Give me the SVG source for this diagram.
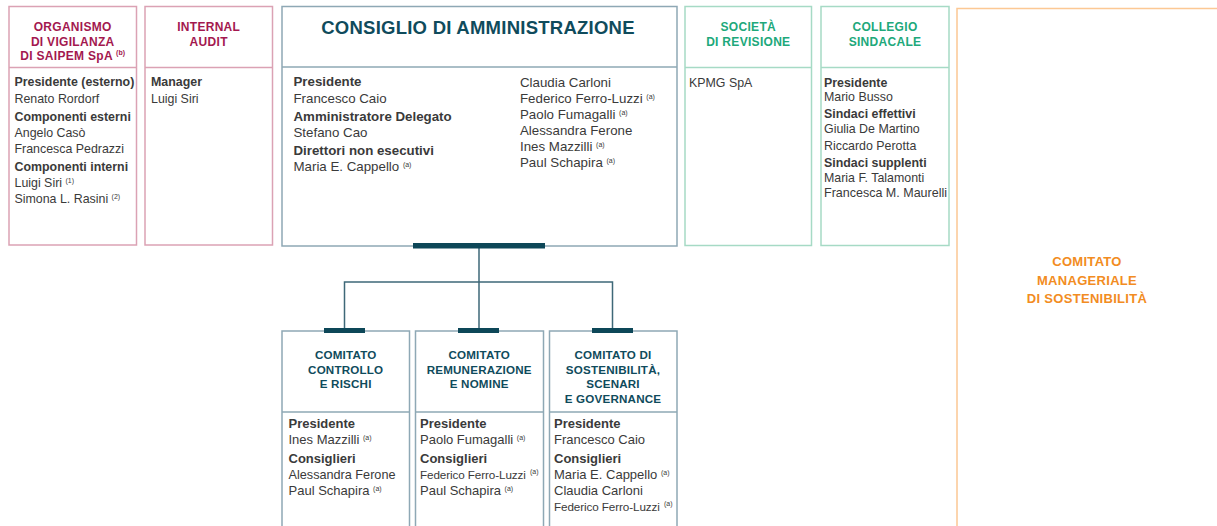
<svg xmlns="http://www.w3.org/2000/svg" width="1217" height="526" viewBox="0 0 1217 526">
<style>
.bg{fill:#ffffff}
.bx{fill:#ffffff;stroke-width:1.5}
.pk{stroke:#dba2b4}
.tl{stroke:#8ea8b5}
.gr{stroke:#a6dac5}
.or{stroke:#fcc894}
.h{font-family:"Liberation Sans",Arial,sans-serif;font-weight:bold;font-size:12px;letter-spacing:0.3px;text-anchor:middle}
.hb{font-family:"Liberation Sans",Arial,sans-serif;font-weight:bold;font-size:11.6px;letter-spacing:0.2px;text-anchor:middle;fill:#0f4b5c}
.hp{fill:#a3184f}
.hg{fill:#20a87a}
.ho{fill:#f28c22;font-size:13px}
.t{font-family:"Liberation Sans",Arial,sans-serif;font-size:12.4px;fill:#3a3a3a}
.tc{font-family:"Liberation Sans",Arial,sans-serif;font-size:13.3px;fill:#3a3a3a}
.tb{font-family:"Liberation Sans",Arial,sans-serif;font-size:13px;fill:#3a3a3a}
.tn{font-size:11.7px;letter-spacing:-0.1px}
.b{font-weight:bold}
.s{font-size:7px}
.ss{font-family:"Liberation Sans",Arial,sans-serif;font-size:7px;fill:#3a3a3a}
.bar{fill:#0d4758}
.ln{fill:none;stroke:#3e6878;stroke-width:1.5}
</style>
<rect class="bg" x="0" y="0" width="1217" height="526"/>
<g id="connectors">
<path class="ln" d="M479 248 V328 M344.5 328 V282 H612.5 V328"/>
</g>
<g id="organismo">
<rect class="bx pk" x="9" y="6.5" width="127.5" height="238.5"/>
<line class="pk" x1="9" y1="67.5" x2="136.5" y2="67.5" stroke-width="1.5"/>
<text class="h hp" x="72.7" y="30.7">ORGANISMO</text>
<text class="h hp" x="72.7" y="45.5">DI VIGILANZA</text>
<text class="h hp" x="72.7" y="60">DI SAIPEM SpA <tspan class="s" dy="-5" letter-spacing="0">(b)</tspan></text>
<text class="t" x="14.5"><tspan class="b" x="14.5" y="86">Presidente (esterno)</tspan><tspan x="14.5" y="102.5">Renato Rordorf</tspan><tspan class="b" x="14.5" y="120.5">Componenti esterni</tspan><tspan x="14.5" y="136.5">Angelo Casò</tspan><tspan x="14.5" y="152.7">Francesca Pedrazzi</tspan><tspan class="b" x="14.5" y="171">Componenti interni</tspan><tspan x="14.5" y="187">Luigi Siri <tspan class="s" dy="-4">(1)</tspan></tspan><tspan x="14.5" y="203.3">Simona L. Rasini <tspan class="s" dy="-4">(2)</tspan></tspan></text>
</g>
<g id="internal-audit">
<rect class="bx pk" x="145" y="6.5" width="127.5" height="238.5"/>
<line class="pk" x1="145" y1="67.5" x2="272.5" y2="67.5" stroke-width="1.5"/>
<text class="h hp" x="208.7" y="30.7">INTERNAL</text>
<text class="h hp" x="208.7" y="45.7">AUDIT</text>
<text class="t"><tspan class="b" x="151" y="86">Manager</tspan><tspan x="151" y="102.5">Luigi Siri</tspan></text>
</g>
<g id="cda">
<rect class="bx tl" x="282" y="6.5" width="395" height="239.5"/>
<line class="tl" x1="282" y1="67" x2="677" y2="67" stroke-width="1.5"/>
<text class="h" x="478" y="34.3" style="font-size:18.5px;letter-spacing:0.25px;fill:#0f4b5c">CONSIGLIO DI AMMINISTRAZIONE</text>
<text class="tc"><tspan class="b" x="293.5" y="86">Presidente</tspan><tspan x="293.5" y="102.7">Francesco Caio</tspan><tspan class="b" x="293.5" y="120.7">Amministratore Delegato</tspan><tspan x="293.5" y="136.7">Stefano Cao</tspan><tspan class="b" x="293.5" y="155">Direttori non esecutivi</tspan><tspan x="293.5" y="171">Maria E. Cappello <tspan class="s" dy="-4">(a)</tspan></tspan></text>
<text class="tc"><tspan x="520" y="86.7">Claudia Carloni</tspan><tspan x="520" y="102.7">Federico Ferro-Luzzi <tspan class="s" dy="-4">(a)</tspan></tspan><tspan x="520" y="118.7">Paolo Fumagalli <tspan class="s" dy="-4">(a)</tspan></tspan><tspan x="520" y="135">Alessandra Ferone</tspan><tspan x="520" y="150.7">Ines Mazzilli <tspan class="s" dy="-4">(a)</tspan></tspan><tspan x="520" y="166.7">Paul Schapira <tspan class="s" dy="-4">(a)</tspan></tspan></text>
<rect class="bar" x="413" y="243" width="132" height="5.5"/>
</g>
<g id="societa-revisione">
<rect class="bx gr" x="685" y="6.5" width="126.5" height="239"/>
<line class="gr" x1="685" y1="67.5" x2="811.5" y2="67.5" stroke-width="1.5"/>
<text class="h hg" x="748.3" y="30.7">SOCIETÀ</text>
<text class="h hg" x="748.3" y="45.7">DI REVISIONE</text>
<text class="t" x="689" y="86.5">KPMG SpA</text>
</g>
<g id="collegio-sindacale">
<rect class="bx gr" x="821" y="6.5" width="128" height="239"/>
<line class="gr" x1="821" y1="67.5" x2="949" y2="67.5" stroke-width="1.5"/>
<text class="h hg" x="885" y="30.7">COLLEGIO</text>
<text class="h hg" x="885" y="45.7">SINDACALE</text>
<text class="t"><tspan class="b" x="824" y="87">Presidente</tspan><tspan x="824" y="101">Mario Busso</tspan><tspan class="b" x="824" y="118">Sindaci effettivi</tspan><tspan x="824" y="132.5">Giulia De Martino</tspan><tspan x="824" y="150">Riccardo Perotta</tspan><tspan class="b" x="824" y="166.5">Sindaci supplenti</tspan><tspan x="824" y="181.5">Maria F. Talamonti</tspan><tspan x="824" y="196.5" textLength="123" lengthAdjust="spacingAndGlyphs">Francesca M. Maurelli</tspan></text>
</g>
<g id="comitato-manageriale">
<rect class="bx or" x="957" y="8.5" width="300" height="600"/>
<text class="h ho" x="1087" y="266">COMITATO</text>
<text class="h ho" x="1087" y="284.5">MANAGERIALE</text>
<text class="h ho" x="1087" y="303">DI SOSTENIBILITÀ</text>
</g>
<g id="comitato-controllo-rischi">
<rect class="bx tl" x="282" y="331" width="127.5" height="220"/>
<line class="tl" x1="282" y1="412" x2="409.5" y2="412" stroke-width="1.5"/>
<rect class="bar" x="324" y="328" width="41" height="5"/>
<text class="hb" x="345.7" y="359">COMITATO</text>
<text class="hb" x="345.7" y="373.5">CONTROLLO</text>
<text class="hb" x="345.7" y="388">E RISCHI</text>
<text class="tb"><tspan class="b" x="288.5" y="428">Presidente</tspan><tspan x="288.5" y="444">Ines Mazzilli <tspan class="s" dy="-4">(a)</tspan></tspan><tspan class="b" x="288.5" y="462.5">Consiglieri</tspan><tspan x="288.5" y="479" textLength="107" lengthAdjust="spacingAndGlyphs">Alessandra Ferone</tspan><tspan x="288.5" y="495">Paul Schapira <tspan class="s" dy="-4">(a)</tspan></tspan></text>
</g>
<g id="comitato-remunerazione-nomine">
<rect class="bx tl" x="415.5" y="331" width="128" height="220"/>
<line class="tl" x1="415.5" y1="412" x2="543.5" y2="412" stroke-width="1.5"/>
<rect class="bar" x="458" y="328" width="41" height="5"/>
<text class="hb" x="479.2" y="359">COMITATO</text>
<text class="hb" x="479.2" y="373.5">REMUNERAZIONE</text>
<text class="hb" x="479.2" y="388">E NOMINE</text>
<text class="tb"><tspan class="b" x="420" y="428">Presidente</tspan><tspan x="420" y="444">Paolo Fumagalli <tspan class="s" dy="-4">(a)</tspan></tspan><tspan class="b" x="420" y="462.5">Consiglieri</tspan><tspan x="420" y="495">Paul Schapira <tspan class="s" dy="-4">(a)</tspan></tspan></text>
<text class="tb tn" x="420" y="479">Federico Ferro-Luzzi</text>
<text class="ss" x="530" y="474">(a)</text>
</g>
<g id="comitato-sostenibilita">
<rect class="bx tl" x="549.5" y="331" width="127.5" height="220"/>
<line class="tl" x1="549.5" y1="412" x2="677" y2="412" stroke-width="1.5"/>
<rect class="bar" x="592" y="328" width="41" height="5"/>
<text class="hb" x="613" y="359">COMITATO DI</text>
<text class="hb" x="613" y="373.5">SOSTENIBILITÀ,</text>
<text class="hb" x="613" y="388">SCENARI</text>
<text class="hb" x="613" y="403">E GOVERNANCE</text>
<text class="tb"><tspan class="b" x="554" y="428">Presidente</tspan><tspan x="554" y="444">Francesco Caio</tspan><tspan class="b" x="554" y="462.5">Consiglieri</tspan><tspan x="554" y="479">Maria E. Cappello <tspan class="s" dy="-4">(a)</tspan></tspan><tspan x="554" y="495">Claudia Carloni</tspan></text>
<text class="tb tn" x="554" y="511">Federico Ferro-Luzzi</text>
<text class="ss" x="664" y="506">(a)</text>
</g>
</svg>
